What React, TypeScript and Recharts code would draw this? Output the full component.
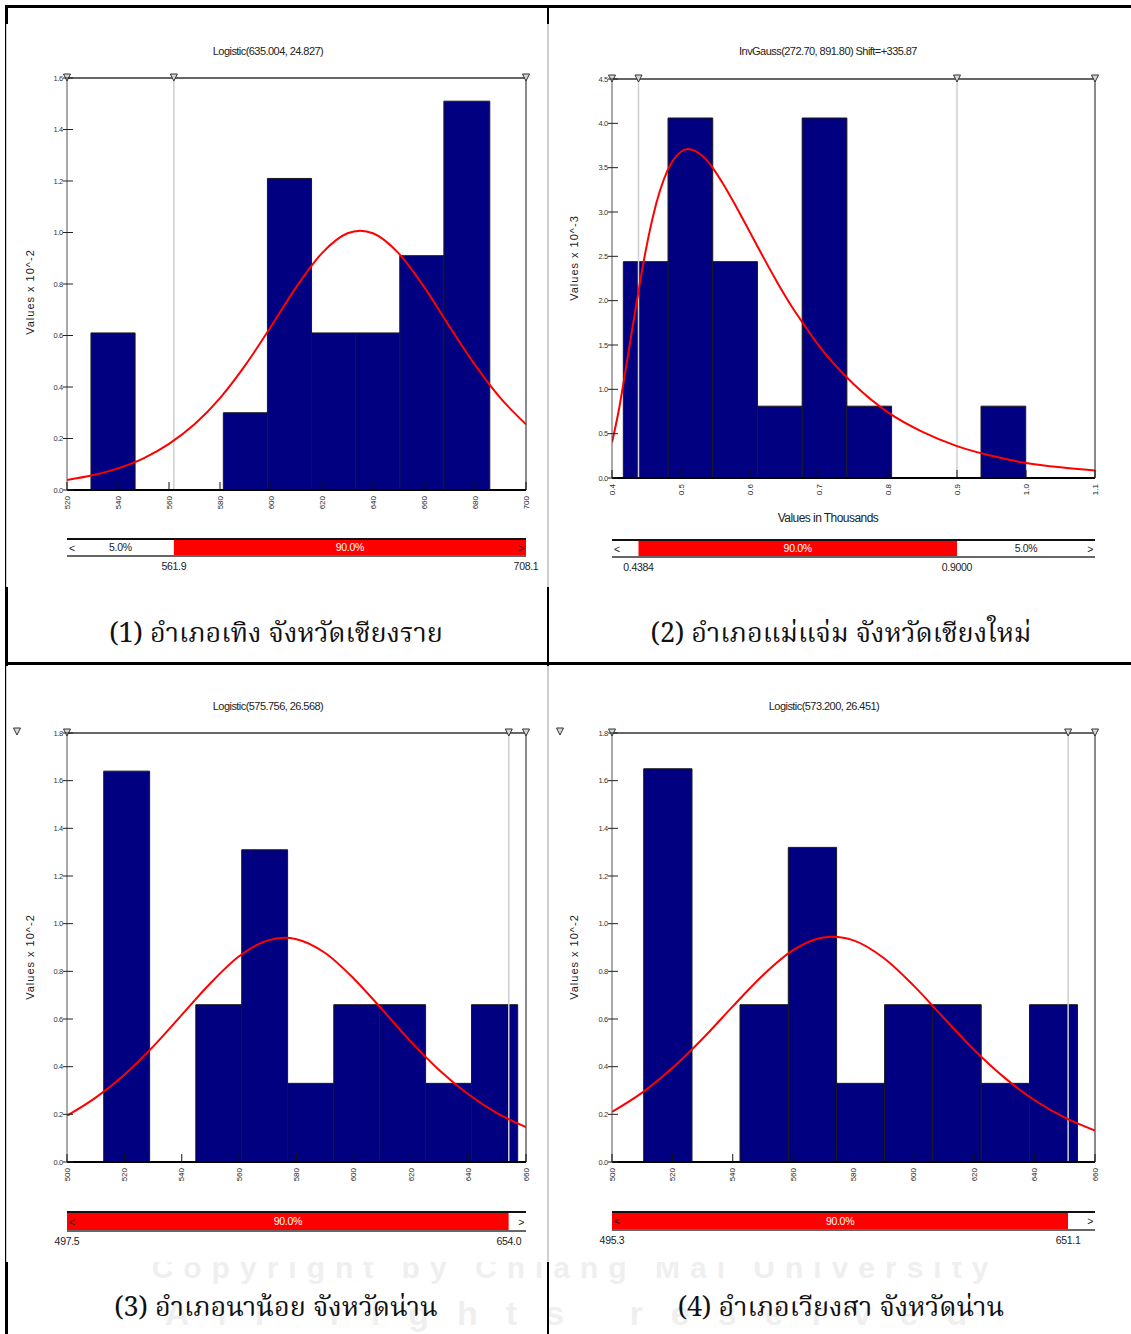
import React from "react";
import {
  ComposedChart,
  Line,
  XAxis,
  YAxis,
  ReferenceArea,
  ReferenceLine,
  ReferenceDot,
} from "recharts";

const NARROW = '"Liberation Sans Narrow", "Liberation Sans", Arial, sans-serif';
const SANS = '"Liberation Sans", Arial, sans-serif';
const THAI = '"Noto Serif Thai", "Noto Sans Thai", "Liberation Serif", "DejaVu Serif", serif';

// ---- panel 1: อำเภอเทิง ----
const p1Title = "Logistic(635.004, 24.827)";
const p1XTicks = [520, 540, 560, 580, 600, 620, 640, 660, 680, 700];
const p1YTicks = [0, 0.2, 0.4, 0.6, 0.8, 1.0, 1.2, 1.4, 1.6];
const p1Edges = [529.4, 546.7, 564.0, 581.3, 598.6, 615.9, 633.2, 650.5, 667.8, 685.8];
const p1Heights = [0.61, 0, 0, 0.3, 1.21, 0.61, 0.61, 0.91, 1.51];
const p1CurveX = [520, 530, 540, 550, 560, 570, 580, 590, 600, 610, 620, 630, 635, 640, 650, 660, 670, 680, 690, 700];
const p1CurveY = [0.039, 0.057, 0.084, 0.123, 0.179, 0.255, 0.357, 0.486, 0.635, 0.789, 0.92, 0.997, 1.007, 0.997, 0.92, 0.789, 0.635, 0.486, 0.357, 0.255];
const p1Markers = [520, 561.9, 700];
const p1PctBounds = [520, 561.9, 700];
const p1PctLabels = ["5.0%", "90.0%"];
const p1ValueAt = [561.9, 700];
const p1ValueLabels = ["561.9", "708.1"];

// ---- panel 2: อำเภอแม่แจ่ม ----
const p2Title = "InvGauss(272.70, 891.80) Shift=+335.87";
const p2XTicks = [0.4, 0.5, 0.6, 0.7, 0.8, 0.9, 1.0, 1.1];
const p2YTicks = [0, 0.5, 1.0, 1.5, 2.0, 2.5, 3.0, 3.5, 4.0, 4.5];
const p2Edges = [0.4164, 0.4812, 0.546, 0.6108, 0.6756, 0.7404, 0.8052, 0.87, 0.9348, 0.9996];
const p2Heights = [2.44, 4.06, 2.44, 0.81, 4.06, 0.81, 0, 0, 0.81];
const p2CurveX = [0.4, 0.41, 0.42, 0.43, 0.44, 0.45, 0.46, 0.48, 0.5, 0.51, 0.52, 0.53, 0.54, 0.56, 0.58, 0.6, 0.62, 0.64, 0.66, 0.68, 0.7, 0.75, 0.8, 0.85, 0.9, 0.95, 1.0, 1.05, 1.1];
const p2CurveY = [0.4, 0.77, 1.23, 1.71, 2.18, 2.61, 2.97, 3.46, 3.68, 3.71, 3.69, 3.64, 3.56, 3.33, 3.06, 2.77, 2.48, 2.2, 1.94, 1.71, 1.49, 1.06, 0.74, 0.52, 0.36, 0.25, 0.17, 0.12, 0.085];
const p2Markers = [0.4, 0.4384, 0.9, 1.1];
const p2PctBounds = [0.4, 0.4384, 0.9, 1.1];
const p2PctLabels = ["", "90.0%", "5.0%"];
const p2ValueAt = [0.4384, 0.9];
const p2ValueLabels = ["0.4384", "0.9000"];

// ---- panel 3: อำเภอนาน้อย ----
const p3Title = "Logistic(575.756, 26.568)";
const p3XTicks = [500, 520, 540, 560, 580, 600, 620, 640, 660];
const p3YTicks = [0, 0.2, 0.4, 0.6, 0.8, 1.0, 1.2, 1.4, 1.6, 1.8];
const p3Edges = [512.8, 528.8, 544.9, 560.9, 576.9, 593.0, 609.0, 625.0, 641.0, 657.1];
const p3Heights = [1.64, 0, 0.66, 1.31, 0.33, 0.66, 0.66, 0.33, 0.66];
const p3CurveX = [500, 510, 520, 530, 540, 550, 560, 570, 575.8, 580, 590, 600, 610, 620, 630, 640, 650, 660];
const p3CurveY = [0.194, 0.27, 0.366, 0.484, 0.617, 0.75, 0.863, 0.93, 0.941, 0.935, 0.877, 0.769, 0.638, 0.503, 0.383, 0.283, 0.204, 0.146];
const p3Markers = [500, 654.0, 660];
const p3PctBounds = [500, 654.0, 660];
const p3PctLabels = ["90.0%", ""];
const p3ValueAt = [500, 654.0];
const p3ValueLabels = ["497.5", "654.0"];

// ---- panel 4: อำเภอเวียงสา ----
const p4Title = "Logistic(573.200, 26.451)";
const p4XTicks = [500, 520, 540, 560, 580, 600, 620, 640, 660];
const p4YTicks = [0, 0.2, 0.4, 0.6, 0.8, 1.0, 1.2, 1.4, 1.6, 1.8];
const p4Edges = [510.5, 526.5, 542.4, 558.4, 574.4, 590.3, 606.3, 622.3, 638.3, 654.2];
const p4Heights = [1.65, 0, 0.66, 1.32, 0.33, 0.66, 0.66, 0.33, 0.66];
const p4CurveX = [500, 510, 520, 530, 540, 550, 560, 570, 573.2, 580, 590, 600, 610, 620, 630, 640, 650, 660];
const p4CurveY = [0.21, 0.291, 0.394, 0.517, 0.653, 0.784, 0.889, 0.942, 0.945, 0.93, 0.856, 0.739, 0.603, 0.47, 0.354, 0.259, 0.186, 0.132];
const p4Markers = [500, 651.1, 660];
const p4PctBounds = [500, 651.1, 660];
const p4PctLabels = ["90.0%", ""];
const p4ValueAt = [500, 651.1];
const p4ValueLabels = ["495.3", "651.1"];

const captions = [
  "(1) อำเภอเทิง จังหวัดเชียงราย",
  "(2) อำเภอแม่แจ่ม จังหวัดเชียงใหม่",
  "(3) อำเภอนาน้อย  จังหวัดน่าน",
  "(4) อำเภอเวียงสา จังหวัดน่าน",
];

type Box = { x0: number; x1: number; y0: number; y1: number };

function XTick(props: any) {
  const { x, y, payload, fmt } = props;
  return (
    <g>
      <line x1={x} y1={y} x2={x} y2={y - 8} stroke="#111" strokeWidth={1} />
      <text
        x={x}
        y={y + 6}
        transform={`rotate(-90 ${x} ${y + 6})`}
        textAnchor="end"
        dominantBaseline="central"
        fontSize={8}
        fontFamily={NARROW}
        fill="#222"
      >
        {fmt(payload.value)}
      </text>
    </g>
  );
}

function YTick(props: any) {
  const { x, y, payload } = props;
  return (
    <g>
      <line x1={x - 4} y1={y} x2={x + 6} y2={y} stroke="#222" strokeWidth={1} />
      <text x={x - 4} y={y} textAnchor="end" dominantBaseline="central" fontSize={7.5} fontFamily={NARROW} fill="#333" letterSpacing={-0.3}>
        {payload.value.toFixed(1)}
      </text>
    </g>
  );
}

const triangle = (p: any) => (
  <polygon
    points={`${p.cx - 3.5},${p.cy - 4} ${p.cx + 3.5},${p.cy - 4} ${p.cx},${p.cy + 3}`}
    fill="#d8d8d8"
    stroke="#333"
    strokeWidth={1}
  />
);

function Hist(props: {
  box: Box;
  xDomain: [number, number];
  xTicks: number[];
  xFmt: (v: number) => string;
  yMax: number;
  yTicks: number[];
  edges: number[];
  heights: number[];
  curveX: number[];
  curveY: number[];
  markers: number[];
  pctLines: number[];
}) {
  const { box, xDomain, xTicks, xFmt, yMax, yTicks, edges, heights, curveX, curveY, markers, pctLines } = props;
  const padL = 60, padT = 20, padR = 20, padB = 40;
  const data = curveX.map((x, i) => ({ x, y: curveY[i] }));
  const w = box.x1 - box.x0 + padL + padR;
  const h = box.y1 - box.y0 + padT + padB;
  return (
    <div style={{ position: "absolute", left: box.x0 - padL, top: box.y0 - padT }}>
      <ComposedChart width={w} height={h} data={data} margin={{ top: padT, right: padR, left: 0, bottom: 0 }}>
        <XAxis
          type="number"
          dataKey="x"
          domain={xDomain}
          ticks={xTicks}
          interval={0}
          allowDataOverflow
          height={padB}
          tickSize={0}
          tickMargin={0}
          tickLine={false}
          axisLine={{ stroke: "#000", strokeWidth: 2 }}
          tick={<XTick fmt={xFmt} />}
        />
        <YAxis
          type="number"
          domain={[0, yMax]}
          ticks={yTicks}
          interval={0}
          allowDataOverflow
          width={padL}
          tickSize={0}
          tickMargin={0}
          tickLine={false}
          axisLine={{ stroke: "#555" }}
          tick={<YTick />}
        />
        {heights.map((v, i) =>
          v > 0 ? (
            <ReferenceArea
              key={"b" + i}
              x1={edges[i]}
              x2={edges[i + 1]}
              y1={0}
              y2={v}
              fill="#000080"
              fillOpacity={1}
              stroke="#1a1a1a"
              strokeWidth={1}
              ifOverflow="visible"
            />
          ) : null
        )}
        {pctLines.map((v, i) => (
          <ReferenceLine key={"p" + i} x={v} stroke="#cfcfcf" strokeWidth={1.5} />
        ))}
        <ReferenceLine x={xDomain[1]} stroke="#8a8a8a" strokeWidth={2} />
        <ReferenceLine y={yMax} stroke="#333" strokeWidth={1.5} />
        <Line type="monotone" dataKey="y" stroke="#ff0000" strokeWidth={2} dot={false} isAnimationActive={false} />
        {markers.map((v, i) => (
          <ReferenceDot key={"m" + i} x={v} y={yMax} r={3} shape={triangle} ifOverflow="visible" />
        ))}
      </ComposedChart>
    </div>
  );
}

function PctBar(props: {
  box: Box;
  xDomain: [number, number];
  top: number;
  bottom: number;
  bounds: number[];
  labels: string[];
  valueAt: number[];
  valueLabels: string[];
}) {
  const { box, xDomain, top, bottom, bounds, labels, valueAt, valueLabels } = props;
  const pad = 30;
  const w = box.x1 - box.x0 + pad * 2;
  const h = bottom - top + 30;
  const textShape = (txt: string, dx: number, dy: number, color: string, size: number, anchor: string) => (p: any) => (
    <text
      x={p.cx + dx}
      y={p.cy + dy}
      textAnchor={anchor}
      dominantBaseline="central"
      fontSize={size}
      fontFamily={NARROW}
      fill={color}
      letterSpacing={-0.3}
    >
      {txt}
    </text>
  );
  return (
    <div style={{ position: "absolute", left: box.x0 - pad, top: top - 10 }}>
      <ComposedChart
        width={w}
        height={h}
        data={[{ x: xDomain[0], y: 0 }, { x: xDomain[1], y: 1 }]}
        margin={{ top: 10, right: pad, left: pad, bottom: 20 }}
      >
        <XAxis type="number" dataKey="x" domain={xDomain} hide />
        <YAxis type="number" domain={[0, 1]} hide />
        <Line dataKey="y" stroke="none" dot={false} isAnimationActive={false} />
        {labels.map((lab, i) => (
          <ReferenceArea
            key={"s" + i}
            x1={bounds[i]}
            x2={bounds[i + 1]}
            y1={0}
            y2={1}
            fill={lab === "90.0%" ? "#ff0000" : "#ffffff"}
            fillOpacity={1}
            stroke="none"
            label={{
              value: lab,
              position: "center",
              fill: lab === "90.0%" ? "#ffffff" : "#222",
              fontSize: 10.5,
              fontFamily: NARROW,
              letterSpacing: -0.3,
            }}
          />
        ))}
        <ReferenceLine y={1} stroke="#111" strokeWidth={2} />
        <ReferenceLine y={0} stroke="#666" strokeWidth={2} />
        <ReferenceDot x={xDomain[0]} y={0.5} r={1} shape={textShape("<", 2, 0, "#222", 10.5, "start")} />
        <ReferenceDot x={xDomain[1]} y={0.5} r={1} shape={textShape(">", -2, 0, "#222", 10.5, "end")} />
        {valueAt.map((v, i) => (
          <ReferenceDot
            key={"v" + i}
            x={v}
            y={0}
            r={1}
            ifOverflow="visible"
            shape={textShape(valueLabels[i], 0, 10, "#222", 10.5, "middle")}
          />
        ))}
      </ComposedChart>
    </div>
  );
}

function Txt(props: { x: number; y: number; children: React.ReactNode; style?: React.CSSProperties; rotate?: boolean }) {
  return (
    <div
      style={{
        position: "absolute",
        left: props.x,
        top: props.y,
        transform: `translate(-50%, -50%)${props.rotate ? " rotate(-90deg)" : ""}`,
        whiteSpace: "nowrap",
        lineHeight: 1,
        ...props.style,
      }}
    >
      {props.children}
    </div>
  );
}

function Tri({ x, y }: { x: number; y: number }) {
  return (
    <svg style={{ position: "absolute", left: x - 5, top: y - 6 }} width={10} height={10}>
      <polygon points="1.5,1 8.5,1 5,8" fill="#d8d8d8" stroke="#333" strokeWidth={1} />
    </svg>
  );
}

const titleStyle: React.CSSProperties = { fontFamily: NARROW, fontSize: 11, color: "#222", letterSpacing: -0.55 };
const yLabStyle: React.CSSProperties = { fontFamily: SANS, fontSize: 11, color: "#222", letterSpacing: 1 };
const capStyle: React.CSSProperties = { fontFamily: THAI, fontSize: 27, color: "#111" };
const wmStyle: React.CSSProperties = { fontFamily: SANS, fontWeight: "bold", color: "#efefef" };
const line = (l: number, t: number, w: number, h: number, c = "#000") => (
  <div style={{ position: "absolute", left: l, top: t, width: w, height: h, background: c }} />
);
const panelBg = (l: number, t: number, w: number, h: number, right: boolean) => (
  <div
    style={{
      position: "absolute",
      left: l,
      top: t,
      width: w,
      height: h,
      background: "#fff",
      boxSizing: "border-box",
      borderLeft: "1px solid #cfcfcf",
      borderRight: right ? "1px solid #cfcfcf" : "none",
    }}
  />
);

const f1 = (v: number) => String(v);
const f2 = (v: number) => v.toFixed(1);

export default function App() {
  const b1: Box = { x0: 67, x1: 526, y0: 78, y1: 490 };
  const b2: Box = { x0: 612, x1: 1095, y0: 79, y1: 478 };
  const b3: Box = { x0: 67, x1: 526, y0: 733, y1: 1162 };
  const b4: Box = { x0: 612, x1: 1095, y0: 733, y1: 1162 };
  return (
    <div style={{ position: "relative", width: 1131, height: 1334, background: "#fff", overflow: "hidden" }}>
      <style>{"body{margin:0}"}</style>

      {/* faint watermark */}
      <Txt x={575} y={1268} style={{ ...wmStyle, fontSize: 30, letterSpacing: 10 }}>
        Copyright by Chiang Mai University
      </Txt>
      <Txt x={580} y={1313} style={{ ...wmStyle, fontSize: 34, letterSpacing: 28 }}>
        All rights reserved
      </Txt>

      {/* table rules */}
      {line(5, 5, 1126, 3)}
      {line(5, 5, 3, 1329)}
      {line(547, 5, 2, 1329)}
      {line(5, 662, 1126, 3)}

      {panelBg(6, 24, 542, 563, true)}
      {panelBg(548, 24, 583, 563, false)}
      {panelBg(6, 666, 542, 596, true)}
      {panelBg(548, 666, 583, 596, false)}

      {/* panel 1 */}
      <Txt x={268} y={51} style={titleStyle}>{p1Title}</Txt>
      <Txt x={30} y={292} rotate style={yLabStyle}>Values x 10^-2</Txt>
      <Hist
        box={b1}
        xDomain={[520, 700]}
        xTicks={p1XTicks}
        xFmt={f1}
        yMax={1.6}
        yTicks={p1YTicks}
        edges={p1Edges}
        heights={p1Heights}
        curveX={p1CurveX}
        curveY={p1CurveY}
        markers={p1Markers}
        pctLines={[561.9]}
      />
      <PctBar box={b1} xDomain={[520, 700]} top={539} bottom={556} bounds={p1PctBounds} labels={p1PctLabels} valueAt={p1ValueAt} valueLabels={p1ValueLabels} />

      {/* panel 2 */}
      <Txt x={828} y={51} style={titleStyle}>{p2Title}</Txt>
      <Txt x={574} y={258} rotate style={yLabStyle}>Values x 10^-3</Txt>
      <Txt x={828} y={518} style={{ ...titleStyle, fontSize: 12 }}>Values in Thousands</Txt>
      <Hist
        box={b2}
        xDomain={[0.4, 1.1]}
        xTicks={p2XTicks}
        xFmt={f2}
        yMax={4.5}
        yTicks={p2YTicks}
        edges={p2Edges}
        heights={p2Heights}
        curveX={p2CurveX}
        curveY={p2CurveY}
        markers={p2Markers}
        pctLines={[0.4384, 0.9]}
      />
      <PctBar box={b2} xDomain={[0.4, 1.1]} top={540} bottom={557} bounds={p2PctBounds} labels={p2PctLabels} valueAt={p2ValueAt} valueLabels={p2ValueLabels} />

      {/* panel 3 */}
      <Txt x={268} y={706} style={titleStyle}>{p3Title}</Txt>
      <Txt x={30} y={957} rotate style={yLabStyle}>Values x 10^-2</Txt>
      <Tri x={17} y={733} />
      <Hist
        box={b3}
        xDomain={[500, 660]}
        xTicks={p3XTicks}
        xFmt={f1}
        yMax={1.8}
        yTicks={p3YTicks}
        edges={p3Edges}
        heights={p3Heights}
        curveX={p3CurveX}
        curveY={p3CurveY}
        markers={p3Markers}
        pctLines={[654.0]}
      />
      <PctBar box={b3} xDomain={[500, 660]} top={1212} bottom={1231} bounds={p3PctBounds} labels={p3PctLabels} valueAt={p3ValueAt} valueLabels={p3ValueLabels} />

      {/* panel 4 */}
      <Txt x={824} y={706} style={titleStyle}>{p4Title}</Txt>
      <Txt x={574} y={957} rotate style={yLabStyle}>Values x 10^-2</Txt>
      <Tri x={560} y={733} />
      <Hist
        box={b4}
        xDomain={[500, 660]}
        xTicks={p4XTicks}
        xFmt={f1}
        yMax={1.8}
        yTicks={p4YTicks}
        edges={p4Edges}
        heights={p4Heights}
        curveX={p4CurveX}
        curveY={p4CurveY}
        markers={p4Markers}
        pctLines={[651.1]}
      />
      <PctBar box={b4} xDomain={[500, 660]} top={1212} bottom={1230} bounds={p4PctBounds} labels={p4PctLabels} valueAt={p4ValueAt} valueLabels={p4ValueLabels} />

      {/* captions */}
      <Txt x={276} y={634} style={capStyle}>{captions[0]}</Txt>
      <Txt x={841} y={634} style={capStyle}>{captions[1]}</Txt>
      <Txt x={276} y={1308} style={capStyle}>{captions[2]}</Txt>
      <Txt x={841} y={1308} style={capStyle}>{captions[3]}</Txt>
    </div>
  );
}
